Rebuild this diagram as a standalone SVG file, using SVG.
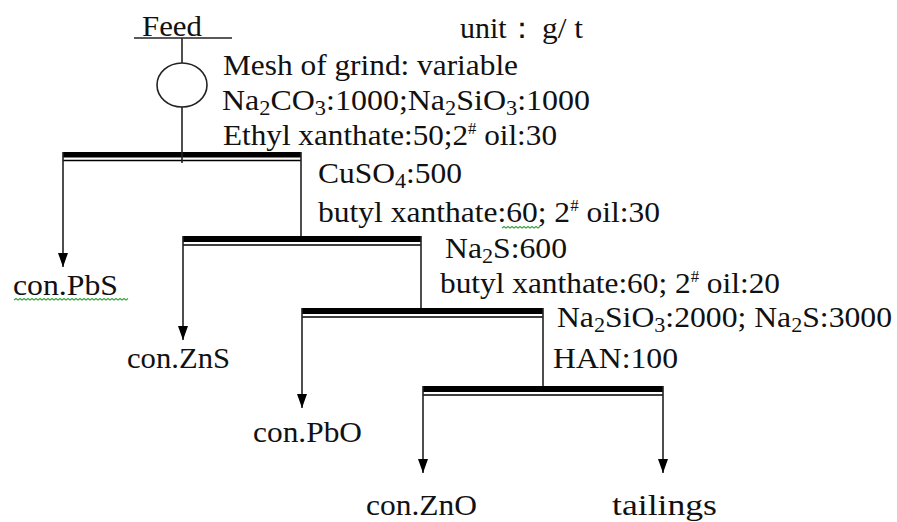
<svg xmlns="http://www.w3.org/2000/svg" width="897" height="522" viewBox="0 0 897 522">
<style>
text{font-family:"Liberation Serif","Times New Roman",serif;font-size:30px;fill:#111}
.sub{font-size:21px}
.sup{font-size:16px}
.ln{stroke:#222;stroke-width:1.6;fill:none}
.bar{fill:#000}
.thin{stroke:#000;stroke-width:1.4}
.sq{stroke:#3aa845;stroke-width:1.2;fill:none}
</style>
<defs>
<marker id="ah" markerWidth="14" markerHeight="10" refX="14" refY="5" orient="auto" markerUnits="userSpaceOnUse" viewBox="0 0 14 10">
<path d="M0,0 L14,5 L0,10 Z" fill="#000"/>
</marker>
</defs>
<rect width="897" height="522" fill="#fff"/>
<g id="feed">
<text x="142" y="36" textLength="60" lengthAdjust="spacingAndGlyphs">Feed</text>
<line class="ln" x1="134" y1="38" x2="232" y2="38"/>
</g>
<g id="unit">
<text x="460" y="38">unit：</text>
<text x="542" y="38" textLength="41" lengthAdjust="spacingAndGlyphs">g/ t</text>
</g>
<g id="grinding">
<ellipse class="ln" cx="182" cy="85" rx="25" ry="22"/>
<text x="223" y="75" textLength="295" lengthAdjust="spacingAndGlyphs">Mesh of grind: variable</text>
<text x="222" y="110" textLength="368" lengthAdjust="spacingAndGlyphs">Na<tspan class="sub" dy="5">2</tspan><tspan dy="-5">CO</tspan><tspan class="sub" dy="5">3</tspan><tspan dy="-5">:1000;Na</tspan><tspan class="sub" dy="5">2</tspan><tspan dy="-5">SiO</tspan><tspan class="sub" dy="5">3</tspan><tspan dy="-5">:1000</tspan></text>
<text x="223" y="145" textLength="334" lengthAdjust="spacingAndGlyphs">Ethyl xanthate:50;2<tspan class="sup" dy="-11">#</tspan><tspan dy="11"> oil:30</tspan></text>
</g>
<g id="flot1">
<rect class="bar" x="63" y="152" width="238" height="5.5"/>
<line class="thin" x1="63" y1="160.5" x2="301" y2="160.5"/>
</g>
<g id="flot2">
<rect class="bar" x="183" y="236" width="238" height="6"/>
<line class="thin" x1="183" y1="245" x2="421" y2="245"/>
<text x="318" y="183" textLength="144" lengthAdjust="spacingAndGlyphs">CuSO<tspan class="sub" dy="5">4</tspan><tspan dy="-5">:500</tspan></text>
<text x="318" y="222" textLength="342" lengthAdjust="spacingAndGlyphs">butyl xanthate:60; 2<tspan class="sup" dy="-11">#</tspan><tspan dy="11"> oil:30</tspan></text>
</g>
<g id="flot3">
<rect class="bar" x="302" y="308" width="241" height="6"/>
<line class="thin" x1="302" y1="317" x2="543" y2="317"/>
<text x="445" y="258" textLength="122" lengthAdjust="spacingAndGlyphs">Na<tspan class="sub" dy="5">2</tspan><tspan dy="-5">S:600</tspan></text>
<text x="440" y="293" textLength="340" lengthAdjust="spacingAndGlyphs">butyl xanthate:60; 2<tspan class="sup" dy="-11">#</tspan><tspan dy="11"> oil:20</tspan></text>
</g>
<g id="flot4">
<rect class="bar" x="423" y="386" width="240" height="6"/>
<line class="thin" x1="423" y1="395" x2="663" y2="395"/>
<text x="557" y="327" textLength="335" lengthAdjust="spacingAndGlyphs">Na<tspan class="sub" dy="5">2</tspan><tspan dy="-5">SiO</tspan><tspan class="sub" dy="5">3</tspan><tspan dy="-5">:2000; Na</tspan><tspan class="sub" dy="5">2</tspan><tspan dy="-5">S:3000</tspan></text>
<text x="553" y="368" textLength="125" lengthAdjust="spacingAndGlyphs">HAN:100</text>
</g>
<g id="conPbS"><text x="13" y="295" textLength="105" lengthAdjust="spacingAndGlyphs">con.PbS</text></g>
<g id="conZnS"><text x="127" y="368" textLength="103" lengthAdjust="spacingAndGlyphs">con.ZnS</text></g>
<g id="conPbO"><text x="253" y="442" textLength="109" lengthAdjust="spacingAndGlyphs">con.PbO</text></g>
<g id="conZnO"><text x="366" y="515" textLength="111" lengthAdjust="spacingAndGlyphs">con.ZnO</text></g>
<g id="tailings"><text x="612" y="515" textLength="105" lengthAdjust="spacingAndGlyphs">tailings</text></g>
<g id="connectors">
<line class="ln" x1="182" y1="38" x2="182" y2="63"/>
<line class="ln" x1="182" y1="107" x2="182" y2="163"/>
<line class="ln" x1="63" y1="152" x2="63" y2="267" marker-end="url(#ah)"/>
<line class="ln" x1="301" y1="152" x2="301" y2="236"/>
<line class="ln" x1="183" y1="236" x2="183" y2="340" marker-end="url(#ah)"/>
<line class="ln" x1="421" y1="236" x2="421" y2="308"/>
<line class="ln" x1="302" y1="308" x2="302" y2="408" marker-end="url(#ah)"/>
<line class="ln" x1="543" y1="308" x2="543" y2="386"/>
<line class="ln" x1="423" y1="386" x2="423" y2="473" marker-end="url(#ah)"/>
<line class="ln" x1="663" y1="386" x2="663" y2="473" marker-end="url(#ah)"/>
</g>
<g id="spellmarks">
<path class="sq" d="M14,300 l2,-1.5 l2,1.5 l2,-1.5 l2,1.5 l2,-1.5 l2,1.5 l2,-1.5 l2,1.5 l2,-1.5 l2,1.5 l2,-1.5 l2,1.5 l2,-1.5 l2,1.5 l2,-1.5 l2,1.5 l2,-1.5 l2,1.5 l2,-1.5 l2,1.5 l2,-1.5 l2,1.5 l2,-1.5 l2,1.5 l2,-1.5 l2,1.5 l2,-1.5 l2,1.5 l2,-1.5 l2,1.5 l2,-1.5 l2,1.5 l2,-1.5 l2,1.5 l2,-1.5 l2,1.5 l2,-1.5 l2,1.5 l2,-1.5 l2,1.5 l2,-1.5 l2,1.5 l2,-1.5 l2,1.5 l2,-1.5 l2,1.5 l2,-1.5 l2,1.5 l2,-1.5 l2,1.5 l2,-1.5 l2,1.5 l2,-1.5 l2,1.5 l2,-1.5 l2,1.5 l2,-1.5"/>
<path class="sq" d="M502,228 l2,-1.5 l2,1.5 l2,-1.5 l2,1.5 l2,-1.5 l2,1.5 l2,-1.5 l2,1.5 l2,-1.5 l2,1.5 l2,-1.5 l2,1.5 l2,-1.5 l2,1.5 l2,-1.5 l2,1.5 l2,-1.5 l2,1.5 l2,-1.5"/>
</g>
</svg>
